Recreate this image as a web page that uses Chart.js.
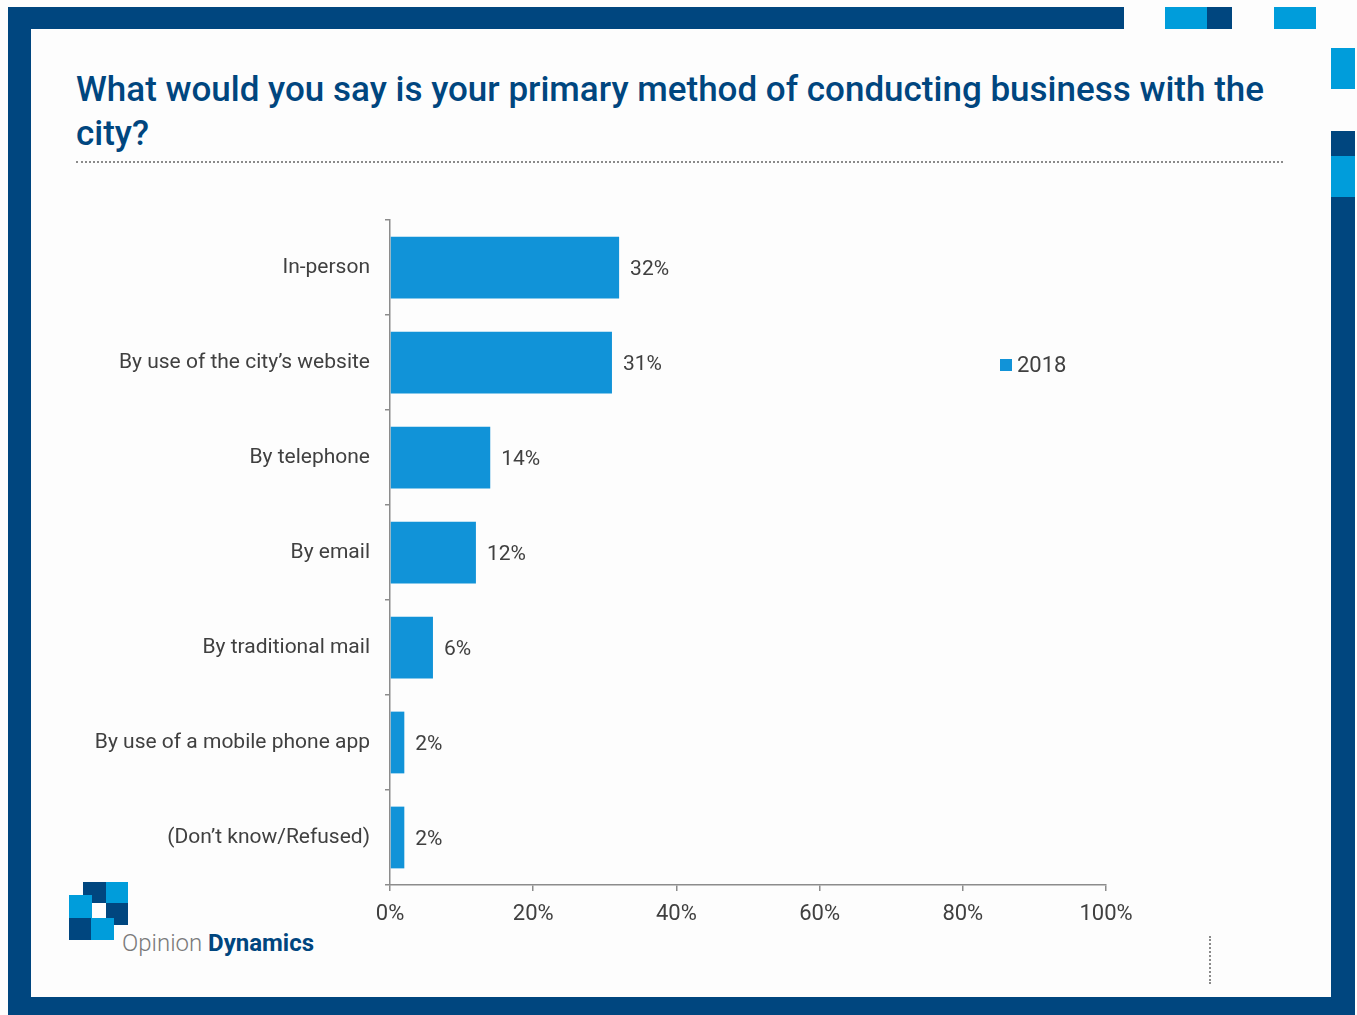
<!DOCTYPE html>
<html>
<head>
<meta charset="utf-8">
<script src="https://cdn.jsdelivr.net/npm/chart.js@4"></script>
<style>
  body { margin: 0; background: #fdfdfd; }
  #page { position: relative; width: 1357px; height: 1015px; overflow: hidden; background: #fdfdfd; font-family: Roboto, sans-serif; }
  .blk { position: absolute; }
  .dk { background: #00467f; }
  .lt { background: #009ddb; }
  #title { position: absolute; left: 76px; top: 68px; width: 1240px; font-size: 35px; font-weight: 500; color: #00467f; line-height: 44px; }
  #rule { position: absolute; left: 76px; top: 161px; width: 1207px; height: 0; border-top: 2px dotted #8a8a8a; }
  #vrule { position: absolute; left: 1209px; top: 936px; width: 0; height: 48px; border-left: 2px dotted #8a8a8a; }
  #brand { position: absolute; left: 122px; top: 929px; font-size: 24px; color: #7a7a7a; font-weight: 300; }
  #brand b { color: #00467f; font-weight: 700; }
  #wrap { position: absolute; left: 0; top: 0; width: 1357px; height: 1015px; }
</style>
</head>
<body>
<div id="page">
  <div class="blk dk" style="left:8px;top:7px;width:1116px;height:22px"></div>
  <div class="blk dk" style="left:8px;top:7px;width:23px;height:1008px"></div>
  <div class="blk dk" style="left:8px;top:997px;width:1347px;height:18px"></div>
  <div class="blk dk" style="left:1331px;top:197px;width:24px;height:818px"></div>
  <div class="blk lt" style="left:1165px;top:7px;width:42px;height:22px"></div>
  <div class="blk dk" style="left:1207px;top:7px;width:25px;height:22px"></div>
  <div class="blk lt" style="left:1274px;top:7px;width:42px;height:22px"></div>
  <div class="blk lt" style="left:1331px;top:48px;width:24px;height:41px"></div>
  <div class="blk dk" style="left:1331px;top:131px;width:24px;height:25px"></div>
  <div class="blk lt" style="left:1331px;top:156px;width:24px;height:41px"></div>

  <div class="blk dk" style="left:83px;top:882px;width:23px;height:21px"></div>
  <div class="blk lt" style="left:106px;top:882px;width:22px;height:21px"></div>
  <div class="blk lt" style="left:69px;top:895px;width:23px;height:23px"></div>
  <div class="blk dk" style="left:106px;top:903px;width:22px;height:22px"></div>
  <div class="blk dk" style="left:69px;top:918px;width:22px;height:22px"></div>
  <div class="blk lt" style="left:91px;top:918px;width:23px;height:22px"></div>
  <div id="brand">Opinion <b>Dynamics</b></div>

  <div id="title">What would you say is your primary method of conducting business with the city?</div>
  <div id="rule"></div>
  <div id="vrule"></div>

  <div id="wrap"><canvas id="chart"></canvas></div>
</div>
<script>
const categories = ['In-person', 'By use of the city\u2019s website', 'By telephone', 'By email', 'By traditional mail', 'By use of a mobile phone app', '(Don\u2019t know/Refused)'];
const seriesLabel = '2018';
const values2018 = [0.32, 0.31, 0.14, 0.12, 0.06, 0.02, 0.02];
const xTicks = [0, 0.2, 0.4, 0.6, 0.8, 1.0];

const barColor = '#1193d8';
const textColor = '#404040';
const axisColor = '#8c8c8c';

const valueLabels = {
  id: 'valueLabels',
  afterDatasetsDraw(chart) {
    const ctx = chart.ctx;
    const meta = chart.getDatasetMeta(0);
    ctx.save();
    ctx.font = '21px Roboto';
    ctx.fillStyle = textColor;
    ctx.textBaseline = 'middle';
    ctx.textAlign = 'left';
    meta.data.forEach((bar, i) => {
      const v = chart.data.datasets[0].data[i];
      ctx.fillText(Math.round(v * 100) + '%', bar.x + 11, bar.y + 2);
    });
    ctx.restore();
  }
};

const sideLegend = {
  id: 'sideLegend',
  afterDraw(chart) {
    const ctx = chart.ctx;
    const ds = chart.data.datasets[0];
    const yMid = 365;
    const x0 = 1000;
    ctx.save();
    ctx.fillStyle = ds.backgroundColor;
    ctx.fillRect(x0, yMid - 6, 12, 12);
    ctx.font = '22px Roboto';
    ctx.fillStyle = textColor;
    ctx.textBaseline = 'middle';
    ctx.fillText(ds.label, x0 + 17, yMid + 1);
    ctx.restore();
  }
};

new Chart(document.getElementById('chart'), {
  type: 'bar',
  data: {
    labels: categories,
    datasets: [{
      label: seriesLabel,
      data: values2018,
      backgroundColor: barColor,
      barPercentage: 0.65,
      categoryPercentage: 1.0
    }]
  },
  options: {
    indexAxis: 'y',
    responsive: true,
    maintainAspectRatio: false,
    animation: false,
    layout: { padding: { left: 0, top: 220, right: 251, bottom: 0 } },
    plugins: {
      legend: { display: false },
      tooltip: { enabled: false }
    },
    scales: {
      x: {
        min: 0,
        max: 1,
        afterFit(scale) { scale.height = 130; },
        afterBuildTicks(scale) { scale.ticks = xTicks.map(v => ({ value: v })); },
        ticks: {
          color: textColor,
          font: { family: 'Roboto', size: 22 },
          padding: 10,
          callback: v => Math.round(v * 100) + '%'
        },
        grid: { drawOnChartArea: false, color: axisColor, tickLength: 6, lineWidth: 1.5 },
        border: { color: axisColor, width: 1.5 }
      },
      y: {
        afterFit(scale) { scale.width = 390; },
        ticks: {
          color: textColor,
          font: { family: 'Roboto', size: 21 },
          padding: 15
        },
        grid: { drawOnChartArea: false, offset: true, color: axisColor, tickLength: 5, lineWidth: 1.5 },
        border: { color: axisColor, width: 1.5 }
      }
    }
  },
  plugins: [valueLabels, sideLegend]
});
</script>
</body>
</html>
